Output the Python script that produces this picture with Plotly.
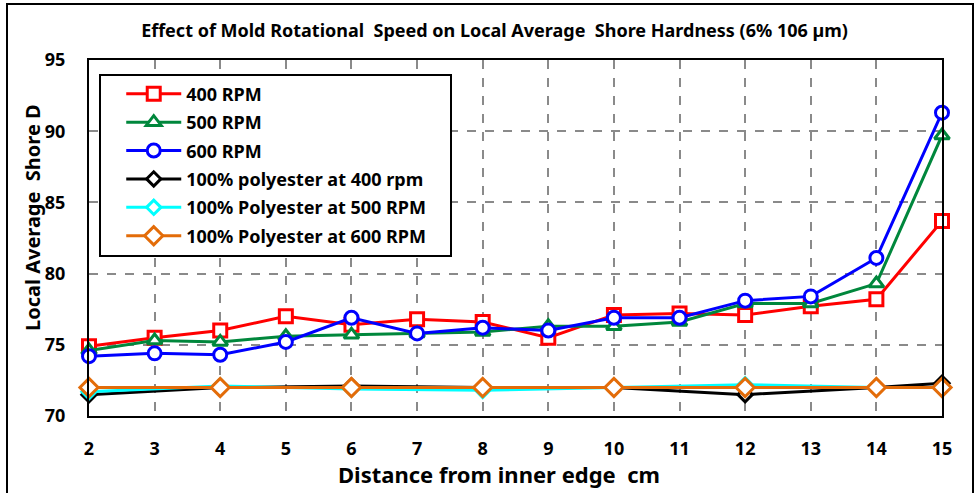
import plotly.graph_objects as go

x_main = [2, 3, 4, 5, 6, 7, 8, 9, 10, 11, 12, 13, 14, 15]
rpm400 = [74.9, 75.5, 76.0, 77.0, 76.4, 76.8, 76.6, 75.5, 77.1, 77.2, 77.1, 77.7, 78.2, 83.7]
rpm500 = [74.6, 75.3, 75.2, 75.6, 75.7, 75.8, 75.9, 76.3, 76.3, 76.6, 77.9, 77.9, 79.3, 89.7]
rpm600 = [74.2, 74.4, 74.3, 75.2, 76.9, 75.8, 76.2, 76.0, 76.9, 76.9, 78.1, 78.4, 81.1, 91.3]

x_poly = [2, 4, 6, 8, 10, 12, 14, 15]
poly400 = [71.5, 72.0, 72.1, 72.0, 72.0, 71.5, 72.0, 72.3]
poly500 = [71.7, 72.1, 71.9, 71.8, 72.0, 72.2, 72.0, 72.0]
poly600 = [72.0, 72.0, 72.0, 72.0, 72.0, 72.0, 72.0, 72.0]

x_ticks = list(range(2, 16))
y_ticks = [70, 75, 80, 85, 90, 95]

FONT = "Noto Sans"
PW, PH = 853, 356  # plot area size in px
PAD = "\u00a0" * 4  # extra right padding inside legend box

fig = go.Figure()

def add(x, y, name, color, symbol, msize, i):
    fig.add_trace(go.Scatter(
        x=x, y=y, name=name, mode="lines+markers",
        line=dict(color=color, width=3),
        marker=dict(symbol=symbol, size=msize, color="white",
                    line=dict(color=color, width=3)),
        cliponaxis=False, legendgroup=f"g{i}",
    ))

add(x_main, rpm400, "400 RPM", "#ff0000", "square", 13, 0)
add(x_main, rpm500, "500 RPM", "#00873c", "triangle-up", 13, 1)
add(x_main, rpm600, "600 RPM", "#0000ff", "circle", 13, 2)
add(x_poly, poly400, "100% polyester at 400 rpm", "#000000", "diamond", 11, 3)
add(x_poly, poly500, "100% Polyester at 500 RPM" + PAD, "#00ffff", "diamond", 11, 4)
add(x_poly, poly600, "100% Polyester at 600 RPM" + PAD, "#e36c09", "diamond", 14, 5)

fig.update_layout(
    width=980, height=493,
    margin=dict(l=89, r=38, t=60, b=77, autoexpand=False),
    paper_bgcolor="white", plot_bgcolor="white",
    font=dict(family=FONT, color="black"),
    title=dict(text="Effect of Mold Rotational\u00a0 Speed on Local Average\u00a0 Shore Hardness (6% 106 µm)",
               x=494.5 / 980, xanchor="center", y=1 - 31 / 493, yanchor="middle",
               font=dict(family=FONT, size=18, weight="bold", color="black")),
    showlegend=True,
    legend=dict(x=0.012, y=0.962, xanchor="left", yanchor="top",
                bgcolor="white", bordercolor="black", borderwidth=2,
                font=dict(family=FONT, size=18, weight="bold", color="black"),
                traceorder="grouped", tracegroupgap=2,
                itemwidth=55, indentation=20),
)

fig.update_xaxes(
    range=[2, 15], tickvals=x_ticks, ticktext=[str(v) for v in x_ticks],
    showline=True, mirror=True, linecolor="black", linewidth=2,
    showgrid=True, gridcolor="#8a8a8a", gridwidth=1.5, griddash="dash",
    zeroline=False, ticks="", ticklabelstandoff=15, automargin=False,
    tickfont=dict(family=FONT, size=18, weight="bold", color="black"),
)
fig.update_yaxes(
    range=[70, 95], tickvals=y_ticks, ticktext=[str(v) for v in y_ticks],
    showline=True, mirror=True, linecolor="black", linewidth=2,
    showgrid=True, gridcolor="#8a8a8a", gridwidth=1.5, griddash="dash",
    zeroline=False, ticks="", ticklabelstandoff=18, automargin=False,
    tickfont=dict(family=FONT, size=18, weight="bold", color="black"),
)

# axis titles (placed as in the reference, slightly off-centre)
fig.add_annotation(text="Distance from inner edge\u00a0 cm", xref="paper", yref="paper",
                   x=(499 - 89) / PW, y=-(474 - 416) / PH, xanchor="center", yanchor="middle",
                   showarrow=False, font=dict(family=FONT, size=22, weight="bold", color="black"))
fig.add_annotation(text="Local Average\u00a0 Shore D", xref="paper", yref="paper",
                   x=(32 - 89) / PW, y=(416 - 218) / PH, xanchor="center", yanchor="middle",
                   textangle=-90, showarrow=False,
                   font=dict(family=FONT, size=20, weight="bold", color="black"))

fig.add_shape(type="rect", xref="paper", yref="paper",
              x0=(7 - 89) / PW, x1=(973 - 89) / PW, y0=-(500 - 416) / PH, y1=(416 - 4) / PH,
              line=dict(color="black", width=2), fillcolor="rgba(0,0,0,0)", layer="below")

fig.write_html("out.html", config={"displayModeBar": False},
               post_script="document.body.style.margin='0px';")
